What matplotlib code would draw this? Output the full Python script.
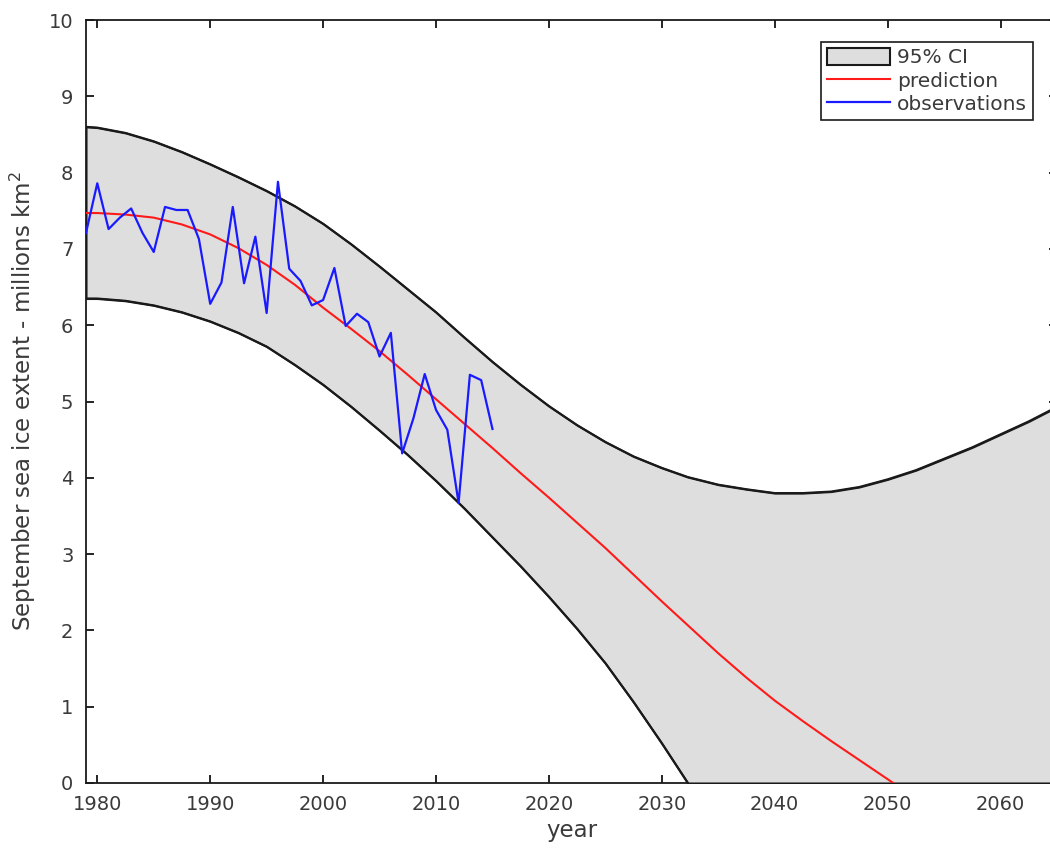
import numpy as np
import matplotlib
matplotlib.use('Agg')
import matplotlib.pyplot as plt

# September sea ice extent observations (millions km^2)
obs_years = list(range(1979, 2016))
obs_extent = [7.21, 7.86, 7.26, 7.41, 7.53, 7.21, 6.96, 7.55, 7.51, 7.51,
              7.13, 6.28, 6.56, 7.55, 6.55, 7.16, 6.16, 7.88, 6.74, 6.58,
              6.26, 6.33, 6.75, 5.99, 6.15, 6.04, 5.59, 5.90, 4.32, 4.78,
              5.36, 4.89, 4.63, 3.67, 5.35, 5.28, 4.64]

# prediction curve
pred_years = [1979, 1980, 1982.5, 1985, 1987.5, 1990, 1992.5, 1995, 1997.5,
              2000, 2002.5, 2005, 2007.5, 2010, 2012.5, 2015, 2017.5, 2020,
              2022.5, 2025, 2027.5, 2030, 2032.5, 2035, 2037.5, 2040, 2042.5,
              2045, 2047.5, 2050, 2050.5]
pred_extent = [7.47, 7.47, 7.45, 7.41, 7.32, 7.19, 7.01, 6.79, 6.53,
               6.23, 5.95, 5.66, 5.35, 5.03, 4.71, 4.39, 4.06, 3.74,
               3.41, 3.08, 2.73, 2.38, 2.04, 1.70, 1.38, 1.08, 0.81,
               0.55, 0.30, 0.05, 0.0]

# 95% confidence band
ci_years = [1979, 1980, 1982.5, 1985, 1987.5, 1990, 1992.5, 1995, 1997.5,
            2000, 2002.5, 2005, 2007.5, 2010, 2012.5, 2015, 2017.5, 2020,
            2022.5, 2025, 2027.5, 2030, 2032.3, 2035, 2037.5, 2040, 2042.5,
            2045, 2047.5, 2050, 2052.5, 2055, 2057.5, 2060, 2062.5, 2065]
ci_upper = [8.60, 8.59, 8.52, 8.41, 8.27, 8.11, 7.94, 7.76, 7.56,
            7.33, 7.06, 6.77, 6.47, 6.17, 5.84, 5.52, 5.22, 4.94,
            4.69, 4.47, 4.28, 4.13, 4.01, 3.91, 3.85, 3.80, 3.80,
            3.82, 3.88, 3.98, 4.10, 4.25, 4.40, 4.57, 4.74, 4.93]
ci_lower = [6.35, 6.35, 6.32, 6.26, 6.17, 6.05, 5.90, 5.72, 5.48,
            5.22, 4.93, 4.62, 4.30, 3.96, 3.60, 3.22, 2.84, 2.44,
            2.02, 1.57, 1.06, 0.52, 0.0, 0.0, 0.0, 0.0, 0.0,
            0.0, 0.0, 0.0, 0.0, 0.0, 0.0, 0.0, 0.0, 0.0]

txt = '#3a3a3a'
plt.rcParams['font.family'] = 'DejaVu Sans'

fig = plt.figure(figsize=(10.5, 8.49), dpi=100)
ax = fig.add_axes([86/1050, 66/849, 971/1050, 763/849])

ax.fill_between(ci_years, ci_lower, ci_upper, facecolor='#dedede',
                edgecolor='none', zorder=3, label='95% CI')
n0 = ci_lower.index(0.0) + 1
ax.plot(ci_years, ci_upper, color='#1a1a1a', lw=1.5, zorder=4)
ax.plot(ci_years[:n0], ci_lower[:n0], color='#1a1a1a', lw=1.5, zorder=4)
ax.plot(pred_years, pred_extent, color='#ff1a1a', lw=1.5, zorder=5, label='prediction')
ax.plot(obs_years, obs_extent, color='#1a1aff', lw=1.6, zorder=6, label='observations')

ax.set_xlim(1979, 2065)
ax.set_ylim(0, 10)
ax.set_xticks(range(1980, 2061, 10))
ax.set_yticks(range(0, 11))
ax.tick_params(direction='in', length=6, width=1.2, top=True, right=True,
               labelsize=14, labelcolor=txt)
ax.tick_params(axis='y', pad=9)
ax.tick_params(axis='x', pad=9)
for s in ax.spines.values():
    s.set_linewidth(1.3)
    s.set_color('#1a1a1a')

ax.set_xlabel('year', fontsize=16.5, color=txt, labelpad=3)
ax.set_ylabel('September sea ice extent - millions km$^2$', fontsize=16.5,
              color=txt, labelpad=8)

h, l = ax.get_legend_handles_labels()
h[0].set_edgecolor('#1a1a1a')
h[0].set_linewidth(1.5)
leg = ax.legend(h, l, loc='upper right', bbox_to_anchor=(1033/1050, 1 - 42/849),
                bbox_transform=fig.transFigure, fontsize=14.5, frameon=True,
                fancybox=False, framealpha=1, edgecolor='#1a1a1a',
                handlelength=3.1, handleheight=0.9, handletextpad=0.35,
                labelspacing=0.2, borderpad=0.3, borderaxespad=0)
leg.get_frame().set_linewidth(1.2)
for t in leg.get_texts():
    t.set_color(txt)
leg.set_zorder(10)

fig.savefig('out.png', dpi=100)
